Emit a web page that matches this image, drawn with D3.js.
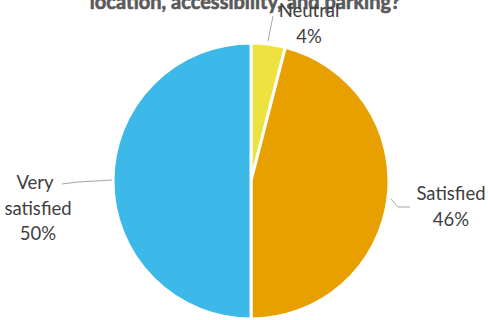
<!DOCTYPE html>
<html><head><meta charset="utf-8">
<script src="https://cdn.jsdelivr.net/npm/d3@7"></script>
<style>html,body{margin:0;padding:0;background:#fff;overflow:hidden}</style>
</head><body>
<svg id="c" width="488" height="320"></svg>
<script>
const categories = ["Neutral", "Satisfied", "Very satisfied"];
const values = [4, 46, 50];
const labelLines = [["Neutral", "4%"], ["Satisfied", "46%"], ["Very", "satisfied", "50%"]];
const colors = ["#EEE240", "#E8A000", "#3CB9E8"];
const title = "location, accessibility, and parking?";

const svg = d3.select("#c");
const cx = 251, cy = 181, r = 138;
const font = "Lato, 'Open Sans', sans-serif";

svg.append("text").attr("x", 245).attr("y", 9).attr("text-anchor", "middle")
  .attr("font-family", font).attr("font-weight", "bold").attr("font-size", 20)
  .attr("fill", "#595959").attr("stroke", "#595959").attr("stroke-width", 0.6)
  .text(title);

const pie = d3.pie().sort(null).value(d => d)(values);
const arc = d3.arc().innerRadius(0).outerRadius(r);
const g = svg.append("g").attr("transform", `translate(${cx},${cy})`);
g.selectAll("path").data(pie).join("path")
  .attr("d", arc).attr("fill", (d, i) => colors[i])
  .attr("stroke", "#fff").attr("stroke-width", 3).attr("stroke-linejoin", "round");

// leader lines & labels
const labelPos = [
  {x: 309, y: 17, line: [[268 - cx, 41 - cy], [273 - cx, 16 - cy]]},
  {x: 451, y: 200, line: [[391 - cx, 199 - cy], [398 - cx, 207 - cy], [410 - cx, 207 - cy]]},
  {x: 38, y: 189, line: [[112 - cx, 180 - cy], [78 - cx, 182 - cy], [62 - cx, 184 - cy]]}
];
pie.forEach((d, i) => {
  const p = labelPos[i];
  g.append("path").attr("d", d3.line()(p.line)).attr("fill", "none")
    .attr("stroke", "#A6A6A6").attr("stroke-width", 1);
  const t = svg.append("text").attr("text-anchor", "middle")
    .attr("font-family", font).attr("font-size", 18.5).attr("fill", "#404040");
  labelLines[i].forEach((s, k) => {
    t.append("tspan").attr("x", i === 2 && k === 0 ? 35 : p.x).attr("y", p.y + k * 25.5).text(s);
  });
});
</script>
</body></html>
